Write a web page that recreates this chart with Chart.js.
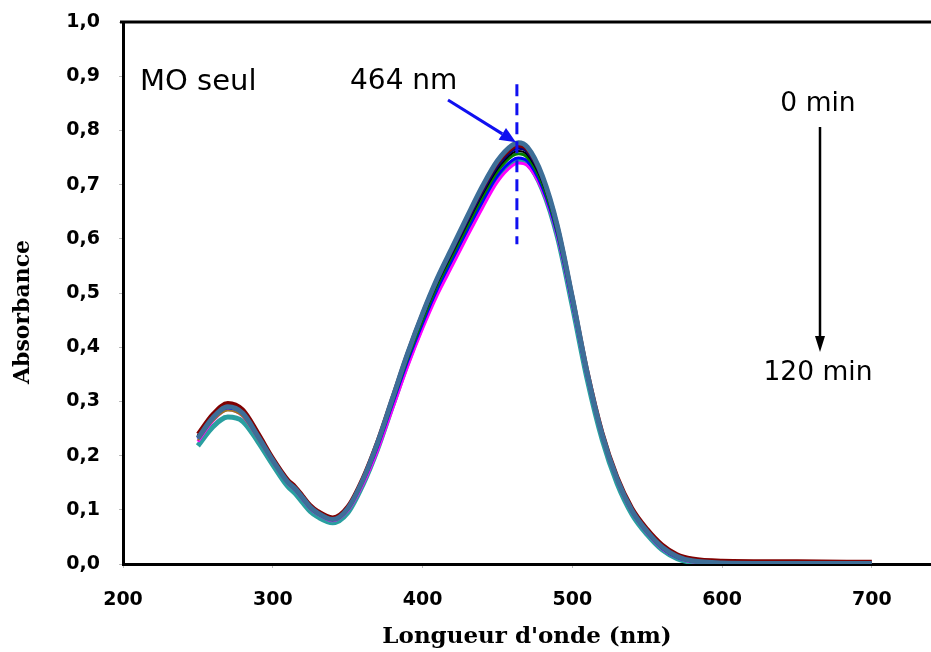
<!DOCTYPE html>
<html>
<head>
<meta charset="utf-8">
<script src="https://cdn.jsdelivr.net/npm/chart.js@4"></script>
<style>
  html, body { margin: 0; padding: 0; background: #fff; }
  #wrap { width: 931px; height: 652px; }
</style>
</head>
<body>
<div id="wrap"><canvas id="uvChart"></canvas></div>
<script>
// wavelength (nm)
const wavelengths = [250,260,270,280,290,300,310,315,320,325,330,340,350,360,370,380,390,400,410,420,430,440,450,460,464,470,480,490,500,510,520,530,540,550,560,570,580,600,650,700];

// absorbance spectra, 0 min -> 120 min
const absSteel = [.232,.270,.290,.278,.236,.191,.151,.139,.122,.105,.094,.082,.102,.154,.224,.306,.388,.462,.528,.585,.642,.697,.744,.773,.777,.769,.716,.624,.492,.352,.238,.156,.098,.060,.031,.014,.006,.002,.001,.001];
const absRed   = [.240,.277,.297,.285,.243,.196,.156,.143,.126,.109,.098,.086,.106,.158,.227,.308,.389,.462,.527,.583,.639,.693,.740,.768,.772,.765,.714,.624,.494,.356,.243,.161,.103,.065,.036,.018,.010,.006,.005,.004];
const absOlive = [.228,.264,.283,.272,.231,.188,.148,.136,.119,.102,.092,.081,.101,.153,.222,.304,.386,.459,.525,.582,.638,.693,.740,.769,.773,.765,.712,.621,.490,.350,.236,.154,.097,.059,.030,.013,.005,.002,.001,.001];
const absNavy  = [.236,.273,.293,.281,.240,.193,.153,.140,.123,.106,.095,.084,.103,.155,.223,.304,.385,.457,.522,.578,.633,.687,.734,.763,.767,.760,.709,.619,.489,.351,.238,.157,.099,.061,.032,.015,.007,.003,.002,.002];
const absBlack = [.233,.269,.289,.277,.237,.191,.151,.138,.121,.104,.094,.083,.102,.153,.221,.302,.382,.454,.519,.574,.629,.682,.729,.758,.762,.755,.705,.616,.487,.349,.237,.156,.098,.060,.031,.014,.006,.002,.001,.001];
const absGreen = [.236,.273,.293,.280,.239,.192,.152,.139,.122,.105,.094,.083,.102,.153,.220,.300,.379,.450,.515,.570,.624,.677,.724,.753,.757,.750,.701,.613,.485,.348,.236,.155,.097,.059,.030,.013,.005,.002,.001,.001];
const absBlue  = [.231,.268,.288,.276,.236,.190,.150,.137,.120,.103,.093,.082,.101,.151,.217,.296,.374,.444,.508,.563,.617,.669,.716,.745,.749,.743,.695,.609,.482,.346,.235,.154,.096,.058,.029,.012,.005,.002,.001,.001];
const absMag   = [.226,.264,.285,.273,.233,.189,.149,.136,.119,.102,.092,.080,.098,.146,.210,.287,.364,.434,.497,.551,.605,.657,.705,.735,.740,.735,.690,.606,.480,.345,.234,.153,.095,.057,.028,.012,.004,.002,.001,.001];
const absTeal  = [.218,.253,.271,.263,.226,.183,.143,.130,.113,.097,.087,.076,.094,.145,.212,.292,.371,.442,.506,.561,.614,.666,.712,.741,.745,.739,.691,.604,.476,.340,.229,.148,.091,.054,.026,.010,.003,.001,.000,.000];

const xTicks = [200, 300, 400, 500, 600, 700];
const yTicks = [0, 0.1, 0.2, 0.3, 0.4, 0.5, 0.6, 0.7, 0.8, 0.9, 1.0];

const series = [
  { label: 'S1', data: absSteel, color: '#3d6e98', width: 5 },
  { label: 'S2', data: absRed,   color: '#800000', width: 4 },
  { label: 'S3', data: absOlive, color: '#a07820', width: 2 },
  { label: 'S4', data: absNavy,  color: '#000080', width: 3 },
  { label: 'S5', data: absBlack, color: '#000000', width: 2 },
  { label: 'S6', data: absGreen, color: '#008000', width: 3 },
  { label: 'S7', data: absBlue,  color: '#0000ff', width: 3 },
  { label: 'S8', data: absMag,   color: '#ff00ff', width: 3 },
  { label: 'S9', data: absTeal,  color: '#2a9fa0', width: 5 }
];

// annotations: top frame line, y title, markers and arrows
const annotations = {
  id: 'annotations',
  afterDraw(chart) {
    const { ctx, chartArea, scales } = chart;
    const x = scales.x, y = scales.y;
    ctx.save();

    // top frame
    ctx.strokeStyle = '#000';
    ctx.lineWidth = 3;
    ctx.beginPath();
    ctx.moveTo(chartArea.left - 3, chartArea.top);
    ctx.lineTo(chartArea.right, chartArea.top);
    ctx.stroke();

    // y title
    ctx.save();
    ctx.translate(23, 312);
    ctx.rotate(-Math.PI / 2);
    ctx.font = 'bold 22px "DejaVu Serif"';
    ctx.fillStyle = '#000';
    ctx.textAlign = 'center';
    ctx.textBaseline = 'middle';
    ctx.fillText('Absorbance', 0, 0);
    ctx.restore();

    ctx.fillStyle = '#000';
    ctx.textBaseline = 'middle';
    ctx.textAlign = 'left';
    ctx.font = '29px "DejaVu Sans"';
    ctx.fillText('MO seul', 140, 82);
    ctx.font = '28px "DejaVu Sans"';
    ctx.fillText('464 nm', 350, 82);
    ctx.textAlign = 'center';
    ctx.font = '26.5px "DejaVu Sans"';
    ctx.fillText('0 min', 818, 104);
    ctx.fillText('120 min', 818, 373);

    // dashed line at the peak
    const px = x.getPixelForValue(463);
    ctx.strokeStyle = '#1010f0';
    ctx.lineWidth = 3;
    ctx.setLineDash([12, 7]);
    ctx.beginPath();
    ctx.moveTo(px, y.getPixelForValue(0.885));
    ctx.lineTo(px, y.getPixelForValue(0.59));
    ctx.stroke();
    ctx.setLineDash([]);

    // arrows
    arrow(ctx, 448, 100, px - 1, y.getPixelForValue(0.778), '#1010f0', 3, 16, 7);
    arrow(ctx, 820, 127, 820, 352, '#000', 2.5, 16, 5);

    ctx.restore();
  }
};

function arrow(ctx, x1, y1, x2, y2, color, lw, headLen, headHalf) {
  const a = Math.atan2(y2 - y1, x2 - x1);
  const bx = x2 - headLen * Math.cos(a), by = y2 - headLen * Math.sin(a);
  ctx.strokeStyle = color;
  ctx.fillStyle = color;
  ctx.lineWidth = lw;
  ctx.beginPath();
  ctx.moveTo(x1, y1);
  ctx.lineTo(bx, by);
  ctx.stroke();
  ctx.beginPath();
  ctx.moveTo(x2, y2);
  ctx.lineTo(bx + headHalf * Math.sin(a), by - headHalf * Math.cos(a));
  ctx.lineTo(bx - headHalf * Math.sin(a), by + headHalf * Math.cos(a));
  ctx.closePath();
  ctx.fill();
}

const ctx = document.getElementById('uvChart').getContext('2d');
new Chart(ctx, {
  type: 'line',
  data: {
    datasets: series.map(s => ({
      label: s.label,
      data: wavelengths.map((w, i) => ({ x: w, y: s.data[i] })),
      borderColor: s.color,
      borderWidth: s.width,
      pointRadius: 0,
      cubicInterpolationMode: 'monotone',
      fill: false
    }))
  },
  options: {
    responsive: true,
    maintainAspectRatio: false,
    animation: false,
    layout: { padding: { top: 22, right: 0, left: 0, bottom: 0 } },
    plugins: { legend: { display: false }, tooltip: { enabled: false } },
    scales: {
      x: {
        type: 'linear',
        min: 200,
        max: 739.5,
        afterFit: (scale) => {
          scale.height = 88;
          scale.paddingLeft = 0;
          scale.paddingRight = 0;
        },
        afterBuildTicks: (scale) => { scale.ticks = xTicks.map(v => ({ value: v })); },
        ticks: {
          padding: 21,
          color: '#000',
          font: { family: 'DejaVu Sans', weight: 'bold', size: 19 },
          maxRotation: 0
        },
        grid: { drawOnChartArea: false, tickLength: 4, color: '#bbb' },
        border: { color: '#000', width: 3 },
        title: {
          display: true,
          text: "Longueur d'onde (nm)",
          color: '#000',
          font: { family: 'DejaVu Serif', weight: 'bold', size: 23 },
          padding: { top: 0, bottom: 1 }
        }
      },
      y: {
        min: 0,
        max: 1.0,
        afterFit: (scale) => {
          scale.width = 123;
          scale.paddingTop = 0;
          scale.paddingBottom = 0;
        },
        afterBuildTicks: (scale) => { scale.ticks = yTicks.map(v => ({ value: v })); },
        ticks: {
          padding: 19,
          color: '#000',
          font: { family: 'DejaVu Sans', weight: 'bold', size: 19 },
          callback: (v) => v.toFixed(1).replace('.', ',')
        },
        grid: { drawOnChartArea: false, tickLength: 4, color: '#bbb' },
        border: { color: '#000', width: 3 }
      }
    }
  },
  plugins: [annotations]
});
</script>
</body>
</html>
